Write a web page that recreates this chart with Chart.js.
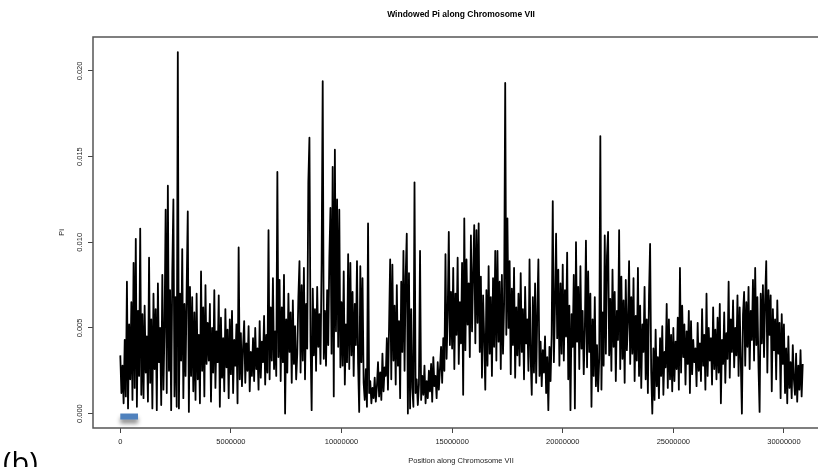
<!DOCTYPE html>
<html lang="en">

<head>
    <meta charset="UTF-8">
    <title>Windowed Pi along Chromosome VII</title>
    <script src="https://cdn.jsdelivr.net/npm/chart.js"></script>
    <style>
        html, body { margin: 0; padding: 0; background: #fff; }
        canvas { display: block; }
    </style>
</head>

<body>
    <canvas id="piChart" width="818" height="467"></canvas>

    <script>
        // window size of the scan (bp) - one value per window
        const windowStep = 50000;

        // Pi x 1000, one Mb per line
        const piTimes1000 = [
            3.4, 1.2, 2.8, 0.6, 4.3, 1.0, 7.7, 0.3, 5.2, 2.0, 6.5, 0.8, 8.8, 1.5, 10.2, 0.4, 6.0, 2.2, 10.8, 1.1,   // 0 Mb
            5.8, 0.9, 6.3, 2.4, 4.5, 0.7, 9.1, 1.8, 5.5, 0.3, 7.0, 2.6, 6.1, 0.2, 7.6, 3.0, 5.0, 0.5, 8.1, 1.4,    // 1
            5.0, 11.9, 1.2, 13.3, 2.5, 7.2, 0.2, 8.3, 12.5, 1.0, 6.8, 0.4, 21.1, 0.3, 7.0, 3.1, 9.6, 0.9, 6.4, 2.2, // 2
            7.3, 11.8, 0.1, 7.4, 2.2, 6.8, 1.3, 5.9, 0.8, 7.0, 2.0, 4.6, 0.6, 8.3, 2.5, 6.2, 1.0, 7.5, 2.9, 5.3,   // 3
            3.1, 6.4, 0.7, 5.0, 2.4, 7.2, 1.5, 4.8, 3.0, 6.9, 0.4, 5.6, 2.1, 4.4, 1.3, 6.1, 2.7, 4.9, 0.9, 5.5,    // 4
            2.3, 6.0, 1.2, 4.3, 2.8, 5.2, 0.6, 9.7, 2.0, 4.7, 1.6, 3.9, 5.4, 1.8, 4.1, 2.5, 5.1, 1.3, 3.6, 2.2,    // 5
            4.4, 1.9, 5.0, 2.6, 3.8, 1.4, 5.4, 2.1, 4.2, 3.0, 5.7, 1.7, 4.6, 2.4, 10.7, 2.0, 6.2, 3.1, 7.9, 2.6,   // 6
            4.8, 2.2, 14.1, 3.3, 7.8, 1.9, 6.2, 3.0, 8.1, 0.0, 5.5, 2.4, 7.0, 3.6, 5.9, 1.8, 6.6, 2.9, 5.1, 2.0,   // 7
            3.5, 6.8, 8.9, 2.4, 7.5, 3.1, 8.5, 2.0, 6.4, 3.8, 13.5, 16.1, 4.2, 0.2, 7.3, 3.4, 6.1, 2.5, 7.4, 3.9,  // 8
            5.8, 2.9, 8.7, 19.4, 3.2, 6.0, 2.8, 7.2, 4.0, 9.1, 12.0, 3.5, 14.4, 1.0, 15.4, 4.8, 12.5, 3.9, 11.9, 2.7, // 9
            6.5, 2.8, 8.3, 1.7, 5.2, 3.0, 9.3, 2.6, 8.8, 3.4, 7.1, 2.2, 6.4, 4.0, 8.9, 2.9, 0.1, 8.6, 3.0, 7.9,    // 10
            1.8, 0.8, 2.6, 0.4, 11.1, 1.2, 1.9, 0.6, 1.5, 0.9, 2.1, 0.7, 1.6, 3.0, 1.0, 2.4, 0.8, 3.5, 1.3, 2.7,   // 11
            2.2, 4.4, 1.4, 5.1, 9.0, 2.0, 8.7, 3.1, 6.3, 1.7, 7.5, 2.8, 5.4, 0.9, 7.7, 3.6, 9.5, 2.5, 8.0, 10.5,   // 12
            0.0, 8.2, 0.3, 6.1, 1.5, 0.4, 13.5, 1.2, 2.0, 0.5, 1.7, 9.5, 0.8, 2.2, 1.1, 2.8, 0.6, 1.9, 0.9, 2.5,   // 13
            1.3, 2.9, 0.7, 3.3, 1.6, 2.2, 0.9, 3.0, 1.4, 2.6, 3.9, 1.8, 4.4, 2.5, 9.3, 3.2, 5.8, 10.6, 4.0, 7.1,   // 14
            3.8, 8.5, 2.6, 7.0, 4.6, 9.1, 2.9, 6.5, 4.1, 8.8, 1.1, 11.4, 3.7, 9.0, 5.2, 7.6, 3.3, 10.4, 4.8, 8.2,  // 15
            11.0, 4.1, 10.7, 5.3, 11.1, 3.6, 8.0, 2.1, 6.9, 4.4, 1.4, 7.2, 2.8, 8.6, 3.5, 6.8, 2.2, 7.9, 3.9, 9.5, // 16
            3.1, 9.5, 4.2, 7.7, 2.6, 8.1, 3.5, 6.4, 19.3, 4.6, 11.4, 5.0, 8.9, 2.3, 7.3, 4.0, 8.5, 2.1, 6.2, 3.4,  // 17
            7.0, 2.8, 8.2, 3.6, 6.1, 2.0, 7.4, 4.1, 5.5, 2.5, 9.0, 3.3, 1.1, 6.8, 2.4, 7.6, 1.8, 5.9, 9.0, 2.2,    // 18
            4.2, 1.6, 3.7, 2.4, 4.5, 1.2, 3.3, 0.2, 3.9, 1.9, 4.6, 12.4, 3.0, 6.3, 10.5, 4.4, 8.4, 2.8, 7.6, 3.5,  // 19
            8.7, 3.1, 7.2, 4.5, 9.4, 2.0, 6.3, 0.2, 5.8, 3.9, 8.1, 0.3, 10.0, 4.2, 7.4, 2.6, 8.6, 3.8, 6.0, 2.3,   // 20
            4.9, 10.1, 2.7, 8.3, 3.6, 7.0, 0.4, 5.5, 2.2, 6.8, 1.6, 4.0, 1.3, 3.2, 16.2, 1.4, 5.9, 2.8, 10.4, 3.5, // 21
            9.2, 10.6, 3.4, 6.7, 2.5, 8.4, 3.9, 7.1, 1.9, 6.0, 4.3, 10.7, 2.6, 8.0, 3.2, 6.6, 1.8, 7.8, 3.7, 5.4,  // 22
            8.9, 2.9, 6.8, 3.5, 7.9, 1.9, 5.7, 3.1, 8.5, 2.2, 6.3, 1.5, 5.2, 3.6, 7.4, 2.0, 5.5, 1.2, 6.9, 9.9,    // 23
            2.4, 0.0, 3.8, 0.8, 4.9, 1.6, 3.3, 0.9, 4.4, 2.2, 5.1, 1.1, 3.6, 2.7, 6.4, 1.5, 5.5, 2.0, 4.6, 1.3,    // 24
            5.0, 1.9, 4.2, 2.6, 5.6, 1.4, 8.5, 2.4, 6.3, 3.3, 5.2, 1.7, 4.8, 2.9, 6.0, 1.2, 5.4, 2.3, 4.3, 3.0,    // 25
            3.8, 1.6, 5.3, 2.5, 4.1, 1.9, 6.1, 2.8, 4.6, 1.4, 7.0, 2.2, 5.0, 3.1, 4.4, 1.7, 6.2, 2.6, 4.9, 2.0,    // 26
            5.6, 2.4, 6.4, 0.6, 4.3, 2.9, 5.9, 1.8, 4.7, 3.2, 7.7, 2.1, 5.5, 3.6, 6.6, 2.7, 5.0, 3.4, 6.9, 2.2,    // 27
            6.2, 3.0, 0.0, 5.8, 7.1, 2.8, 6.5, 3.9, 7.4, 2.6, 6.0, 4.3, 7.8, 3.1, 8.5, 4.0, 6.8, 2.7, 0.1, 7.0,    // 28
            4.1, 7.5, 3.3, 6.7, 8.9, 2.4, 7.2, 4.6, 6.9, 1.3, 6.1, 3.7, 5.5, 2.0, 6.6, 3.5, 5.3, 0.9, 5.8, 2.9,    // 29
            5.2, 1.2, 3.8, 0.6, 4.5, 1.5, 3.0, 0.9, 4.0, 2.0, 1.1, 3.5, 0.7, 2.8, 1.4, 3.7, 1.0, 2.9               // 30
        ];

        // small blue bar drawn under the start of the chromosome
        const markerX = [0, 800000];
        const markerPi = -0.00017;

        const xTicks = [0, 5000000, 10000000, 15000000, 20000000, 25000000, 30000000];
        const yTicks = [0, 0.005, 0.010, 0.015, 0.020];
        const yTickLabels = ['0.000', '0.005', '0.010', '0.015', '0.020'];

        const titleText = 'Windowed Pi along Chromosome VII';
        const xTitle = 'Position along Chromosome VII';
        const yTitle = 'Pi';
        const panelLabel = '(b)';

        const piPoints = piTimes1000.map((v, i) => ({ x: i * windowStep, y: v / 1000 }));
        const markerPoints = markerX.map(x => ({ x: x, y: markerPi }));

        const FONT = 'Liberation Sans, Arial, sans-serif';

        // box, rotated y labels, titles and the panel letter
        const framePlugin = {
            id: 'frame',
            beforeDatasetDraw(chart, args) {
                if (args.index === 1) {
                    const ctx = chart.ctx;
                    ctx.save();
                    ctx.shadowColor = 'rgba(0,0,0,0.45)';
                    ctx.shadowBlur = 4;
                    ctx.shadowOffsetY = 4;
                }
            },
            afterDatasetDraw(chart, args) {
                if (args.index === 1) chart.ctx.restore();
            },
            afterDraw(chart) {
                const ctx = chart.ctx;
                const a = chart.chartArea;
                const y = chart.scales.y;
                ctx.save();
                ctx.strokeStyle = '#555';
                ctx.lineWidth = 1.5;
                ctx.beginPath();
                ctx.moveTo(a.right + 20, a.top);
                ctx.lineTo(a.left, a.top);
                ctx.lineTo(a.left, a.bottom);
                ctx.lineTo(a.right + 20, a.bottom);
                ctx.stroke();

                ctx.fillStyle = '#222';
                ctx.textAlign = 'center';
                ctx.textBaseline = 'middle';
                ctx.font = '7.5px ' + FONT;
                yTicks.forEach((v, i) => {
                    ctx.save();
                    ctx.translate(80, y.getPixelForValue(v));
                    ctx.rotate(-Math.PI / 2);
                    ctx.fillText(yTickLabels[i], 0, 0);
                    ctx.restore();
                });
                ctx.save();
                ctx.translate(62, (a.top + a.bottom) / 2);
                ctx.rotate(-Math.PI / 2);
                ctx.fillText(yTitle, 0, 0);
                ctx.restore();

                ctx.fillText(xTitle, 461, 461);

                ctx.fillStyle = '#000';
                ctx.font = 'bold 8.5px ' + FONT;
                ctx.fillText(titleText, 461, 15);

                ctx.textAlign = 'left';
                ctx.textBaseline = 'alphabetic';
                ctx.font = '29px "Open Sans", "Noto Sans", sans-serif';
                ctx.fillText(panelLabel, 3, 473);
                ctx.restore();
            }
        };

        new Chart(document.getElementById('piChart'), {
            type: 'line',
            data: {
                datasets: [{
                    label: 'Pi',
                    data: piPoints,
                    borderColor: '#000',
                    borderWidth: 1.8,
                    borderJoinStyle: 'round',
                    pointRadius: 0,
                    tension: 0,
                    fill: false
                }, {
                    label: 'marker',
                    data: markerPoints,
                    borderColor: '#4f81bd',
                    borderWidth: 6,
                    borderCapStyle: 'butt',
                    pointRadius: 0,
                    fill: false
                }]
            },
            options: {
                responsive: false,
                animation: false,
                devicePixelRatio: 1,
                layout: { padding: { top: 37, left: 0, right: 0, bottom: 0 } },
                plugins: {
                    legend: { display: false },
                    title: { display: false },
                    tooltip: { enabled: false }
                },
                scales: {
                    x: {
                        type: 'linear',
                        min: -1234000,
                        max: 31540000,
                        afterBuildTicks: s => { s.ticks = xTicks.map(v => ({ value: v })); },
                        afterFit: s => { s.height = 39; },
                        border: { display: false },
                        grid: { drawOnChartArea: false, drawTicks: true, tickLength: 5, tickColor: '#444', tickWidth: 1 },
                        ticks: {
                            padding: 4,
                            color: '#222',
                            font: { family: FONT, size: 7.5 },
                            maxRotation: 0,
                            autoSkip: false,
                            callback: v => String(v)
                        }
                    },
                    y: {
                        type: 'linear',
                        min: -0.00084,
                        max: 0.02198,
                        afterBuildTicks: s => { s.ticks = yTicks.map(v => ({ value: v })); },
                        afterFit: s => { s.width = 93; },
                        border: { display: false },
                        grid: { drawOnChartArea: false, drawTicks: true, tickLength: 5, tickColor: '#444', tickWidth: 1 },
                        ticks: { display: false }
                    }
                }
            },
            plugins: [framePlugin]
        });
    </script>
</body>

</html>
